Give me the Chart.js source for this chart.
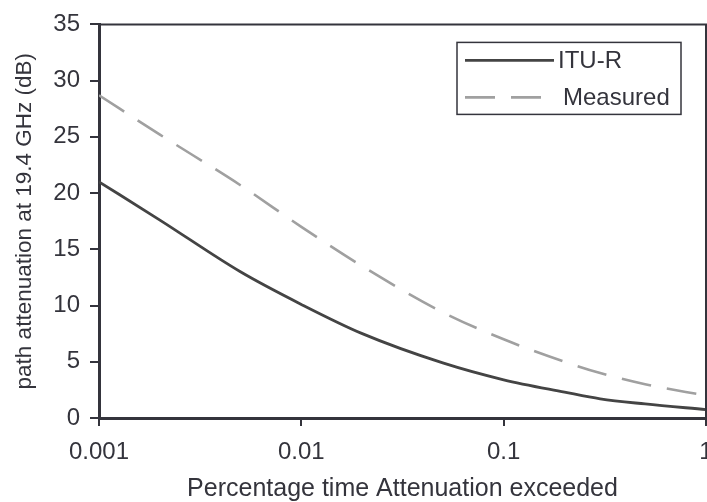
<!DOCTYPE html>
<html>
<head>
<meta charset="utf-8">
<script src="https://cdn.jsdelivr.net/npm/chart.js@4"></script>
<style>
  html, body { margin: 0; padding: 0; background: #fff; }
  #wrap { width: 707px; height: 502px; }
</style>
</head>
<body>
<div id="wrap"><canvas id="c" width="707" height="502"></canvas></div>
<script>
// Rain attenuation exceedance curves at 19.4 GHz
const percentTime = [0.001, 0.002, 0.005, 0.01, 0.02, 0.05, 0.1, 0.2, 0.3, 0.5, 1];
const ituR        = [21.0, 17.6, 13.0, 10.1, 7.5, 4.9, 3.4, 2.3, 1.7, 1.25, 0.75];
const measured    = [28.7, 25.2, 20.7, 17.0, 13.5, 9.4, 7.0, 5.0, 4.0, 3.0, 2.0];

const xTickValues = [0.001, 0.01, 0.1, 1];
const xTickLabels = ['0.001', '0.01', '0.1', '1'];
const yTickValues = [0, 5, 10, 15, 20, 25, 30, 35];

const seriesNames = ['ITU-R', 'Measured'];
const xTitle = 'Percentage time Attenuation exceeded';
const yTitle = 'path attenuation at 19.4 GHz (dB)';

const INK = '#34343c';
const FONT = "'Liberation Sans', Arial, sans-serif";

function toPoints(xs, ys) {
  return xs.map((x, i) => ({ x: x, y: ys[i] }));
}

// Box around the plot area
const framePlugin = {
  id: 'frame',
  afterDraw(chart) {
    const a = chart.chartArea;
    const ctx = chart.ctx;
    ctx.save();
    ctx.strokeStyle = INK;
    ctx.lineWidth = 2;
    ctx.beginPath();
    ctx.moveTo(a.left, a.top);
    ctx.lineTo(a.right, a.top);
    ctx.lineTo(a.right, a.bottom);
    ctx.stroke();
    ctx.restore();
  }
};

// Boxed legend in the upper right of the plot
const boxLegendPlugin = {
  id: 'boxLegend',
  afterDraw(chart) {
    const a = chart.chartArea;
    const ctx = chart.ctx;
    const w = 224, h = 72;
    const left = a.right - 25 - w;
    const top = a.top + 18;
    ctx.save();
    ctx.strokeStyle = INK;
    ctx.lineWidth = 1.5;
    ctx.strokeRect(left, top, w, h);
    ctx.font = '24px ' + FONT;
    ctx.textBaseline = 'middle';
    ctx.textAlign = 'left';
    const rows = [top + 18, top + 55];
    chart.data.datasets.forEach((ds, i) => {
      const y = rows[i];
      ctx.strokeStyle = ds.borderColor;
      ctx.lineWidth = ds.borderWidth;
      ctx.setLineDash(ds.borderDash || []);
      ctx.beginPath();
      ctx.moveTo(left + 8, y);
      ctx.lineTo(left + 97, y);
      ctx.stroke();
      ctx.setLineDash([]);
      ctx.fillStyle = INK;
      ctx.fillText(ds.label, left + 101 + (i === 1 ? 5 : 0), y + 1);
    });
    ctx.restore();
  }
};

new Chart(document.getElementById('c'), {
  type: 'line',
  data: {
    datasets: [
      {
        label: seriesNames[0],
        data: toPoints(percentTime, ituR),
        borderColor: '#444444',
        borderWidth: 2.8,
        pointRadius: 0,
        cubicInterpolationMode: 'monotone',
        fill: false
      },
      {
        label: seriesNames[1],
        data: toPoints(percentTime, measured),
        borderColor: '#a0a0a0',
        borderWidth: 2.6,
        borderDash: [30, 16],
        pointRadius: 0,
        cubicInterpolationMode: 'monotone',
        fill: false
      }
    ]
  },
  options: {
    responsive: false,
    animation: false,
    devicePixelRatio: 1,
    layout: { padding: { left: 0, right: 1, top: 17, bottom: 0 } },
    plugins: {
      legend: { display: false },
      tooltip: { enabled: false }
    },
    scales: {
      x: {
        type: 'logarithmic',
        min: 0.001,
        max: 1,
        afterBuildTicks(scale) {
          scale.ticks = xTickValues.map(v => ({ value: v }));
        },
        afterFit(scale) {
          scale.height = 84;
          scale.paddingLeft = 0;
          scale.paddingRight = 0;
        },
        border: { display: true, color: INK, width: 3 },
        grid: { display: true, drawOnChartArea: false, drawTicks: true, tickLength: 8, color: INK, lineWidth: 2 },
        ticks: {
          autoSkip: false,
          maxRotation: 0,
          padding: 12,
          color: INK,
          font: { family: FONT, size: 24 },
          callback(value) {
            const i = xTickValues.indexOf(value);
            return i >= 0 ? xTickLabels[i] : '';
          }
        },
        title: {
          display: true,
          text: xTitle,
          color: INK,
          font: { family: FONT, size: 25, lineHeight: 1 },
          padding: { top: 0, bottom: 0 }
        }
      },
      y: {
        min: 0,
        max: 35,
        afterBuildTicks(scale) {
          scale.ticks = yTickValues.map(v => ({ value: v }));
        },
        afterFit(scale) {
          scale.width = 99;
        },
        border: { display: true, color: INK, width: 3 },
        grid: { display: true, drawOnChartArea: false, drawTicks: true, tickLength: 9, color: INK, lineWidth: 2 },
        ticks: {
          padding: 10,
          color: INK,
          font: { family: FONT, size: 24 }
        },
        title: {
          display: true,
          text: yTitle,
          color: INK,
          font: { family: FONT, size: 22.5, lineHeight: 1 },
          padding: { top: 14, bottom: 0 }
        }
      }
    }
  },
  plugins: [framePlugin, boxLegendPlugin]
});
</script>
</body>
</html>
